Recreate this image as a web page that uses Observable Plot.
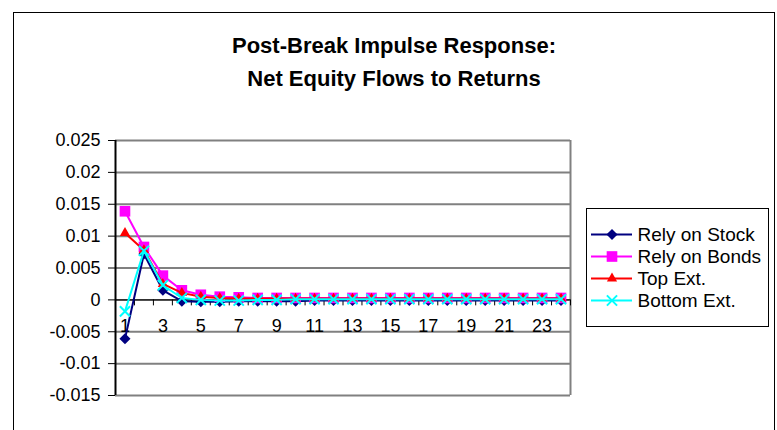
<!DOCTYPE html>
<html><head><meta charset="utf-8">
<script src="https://cdn.jsdelivr.net/npm/d3@7"></script>
<script src="https://cdn.jsdelivr.net/npm/@observablehq/plot@0.6"></script>
<style>
body{margin:0;background:#fff;}
#wrap{position:relative;width:777px;height:430px;overflow:hidden;font-family:"Liberation Sans",Arial,sans-serif;background:#fff;}
#border{position:absolute;left:13px;top:12px;width:762px;height:440px;border:1px solid #000;box-sizing:border-box;}
#title{position:absolute;left:13px;width:762px;top:29px;text-align:center;font-weight:bold;font-size:22px;line-height:33px;color:#000;}
#chart{position:absolute;left:0;top:0;}
#legend{position:absolute;left:586px;top:208px;border:1px solid #000;background:#fff;line-height:0;}
</style></head>
<body><div id="wrap"><div id="border"></div><div id="chart"></div><div id="title">Post-Break Impulse Response:<br>Net Equity Flows to Returns</div><div id="legend"></div></div>
<script>
const categories = [1,2,3,4,5,6,7,8,9,10,11,12,13,14,15,16,17,18,19,20,21,22,23,24];
const xTickLabels = [1,3,5,7,9,11,13,15,17,19,21,23];
const yTicks = [-0.015,-0.01,-0.005,0,0.005,0.01,0.015,0.02,0.025];
const seriesNames = ["Rely on Stock","Rely on Bonds","Top Ext.","Bottom Ext."];
const relyOnStock = [-0.0061,0.0072,0.0015,-0.0002,-0.0003,-0.0003,-0.0002,-0.0002,-0.0002,-0.0002,-0.0001,-0.0001,-0.0001,-0.0001,-0.0001,-0.0001,-0.0001,-0.0001,-0.0001,-0.0001,-0.0001,-0.0001,-0.0001,-0.0001];
const relyOnBonds = [0.0139,0.0083,0.0038,0.0015,0.0008,0.0005,0.0004,0.0003,0.0003,0.0003,0.0003,0.0003,0.0003,0.0003,0.0003,0.0003,0.0003,0.0003,0.0003,0.0003,0.0003,0.0003,0.0003,0.0003];
const topExt = [0.0105,0.0078,0.0025,0.0011,0.0005,0.0003,0.0002,0.0002,0.0002,0.0002,0.0002,0.0002,0.0002,0.0002,0.0002,0.0002,0.0002,0.0002,0.0002,0.0002,0.0002,0.0002,0.0002,0.0002];
const bottomExt = [-0.0018,0.0077,0.0023,0.0003,0.0000,-0.0001,-0.0001,0.0000,0.0000,0.0001,0.0001,0.0001,0.0001,0.0001,0.0001,0.0001,0.0001,0.0001,0.0001,0.0001,0.0001,0.0001,0.0001,0.0001];

const FONT = '"Liberation Sans", Arial, sans-serif';
const series = [
  {name: seriesNames[0], values: relyOnStock, color: "#000080", symbol: "diamond2", r: 5, filled: true},
  {name: seriesNames[1], values: relyOnBonds, color: "#FF00FF", symbol: "square", r: 6, filled: true},
  {name: seriesNames[2], values: topExt, color: "#FF0000", symbol: "triangle", r: 3.8, filled: true},
  {name: seriesNames[3], values: bottomExt, color: "#00FFFF", symbol: "times", r: 4.7, filled: false}
];

const boundaries = categories.map(c => c - 0.5).concat([categories[categories.length - 1] + 0.5]);
const fmt = d => String(+d.toFixed(3));

const seriesMarks = [];
for (const s of series) {
  const rows = categories.map((c, i) => ({x: c, y: s.values[i]}));
  seriesMarks.push(Plot.line(rows, {x: "x", y: "y", stroke: s.color, strokeWidth: 2}));
  seriesMarks.push(Plot.dot(rows, s.filled
    ? {x: "x", y: "y", symbol: () => s.symbol, r: s.r, fill: s.color, stroke: "none"}
    : {x: "x", y: "y", symbol: () => s.symbol, r: s.r, stroke: s.color, strokeWidth: 2, fill: "none"}));
}

const chart = Plot.plot({
  width: 777, height: 430,
  marginLeft: 115, marginRight: 207, marginTop: 140, marginBottom: 35,
  x: {domain: [0.5, 24.5], axis: null},
  y: {domain: [-0.015, 0.025], axis: null},
  symbol: {type: "identity"},
  style: {fontFamily: FONT, fontSize: "18px", background: "transparent", color: "#000"},
  marks: [
    Plot.ruleY(yTicks, {stroke: "#808080", strokeWidth: 2}),
    Plot.ruleX([24.5], {stroke: "#808080", strokeWidth: 2}),
    Plot.axisY({ticks: yTicks, tickSize: 7, tickPadding: 8, tickFormat: fmt, label: null, fontSize: 18, fill: "#000"}),
    Plot.ruleX([0.5], {stroke: "#000", strokeWidth: 2}),
    Plot.ruleY([0], {stroke: "#000", strokeWidth: 1}),
    Plot.ruleX(boundaries, {y1: 0, y2: -0.00094, stroke: "#000"}),
    Plot.text(xTickLabels, {x: d => d, y: 0, text: d => String(d), dy: 19, lineAnchor: "top", fontSize: 18, fill: "#000"}),
    ...seriesMarks
  ]
});
document.getElementById("chart").appendChild(chart);

const legendMarks = [];
for (const s of series) {
  legendMarks.push(Plot.ruleY([s.name], {y: d => d, x1: 4, x2: 45, stroke: s.color, strokeWidth: 2}));
  legendMarks.push(Plot.dot([s.name], s.filled
    ? {x: 24.5, y: d => d, symbol: () => s.symbol, r: s.r, fill: s.color, stroke: "none"}
    : {x: 24.5, y: d => d, symbol: () => s.symbol, r: s.r, stroke: s.color, strokeWidth: 2, fill: "none"}));
  legendMarks.push(Plot.text([s.name], {x: 50, y: d => d, text: d => d, textAnchor: "start", fontSize: 19, fill: "#000"}));
}
const legend = Plot.plot({
  width: 181, height: 117, margin: 0,
  x: {domain: [0, 181], range: [0, 181], axis: null},
  y: {type: "point", domain: seriesNames, range: [14, 102.5], axis: null},
  symbol: {type: "identity"},
  style: {fontFamily: FONT, fontSize: "19px", background: "transparent", color: "#000"},
  marks: legendMarks
});
document.getElementById("legend").appendChild(legend);
</script>
</body></html>
